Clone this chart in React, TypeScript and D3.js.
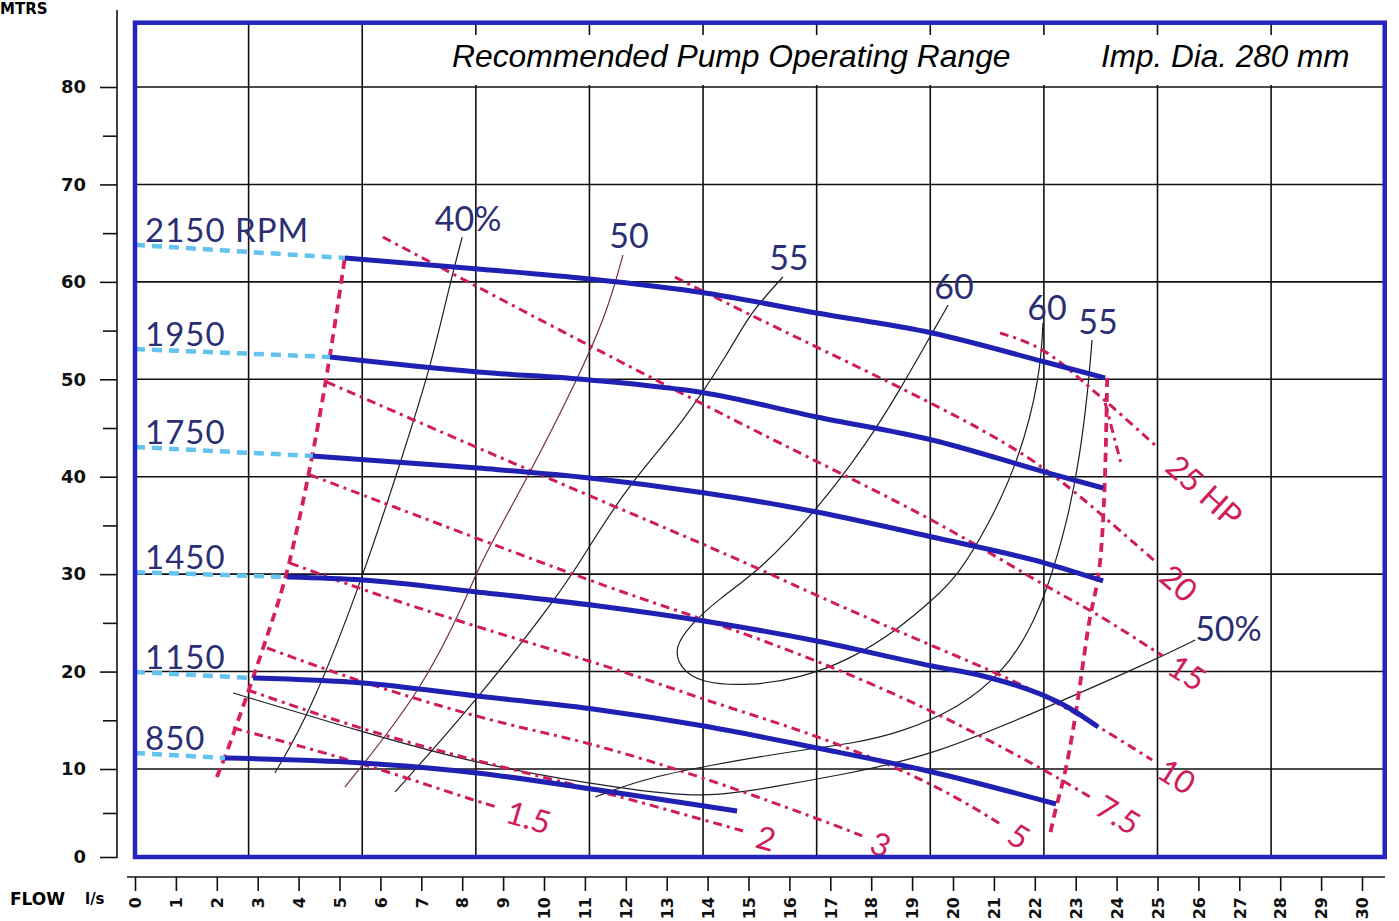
import React, { useEffect, useRef } from "react";
import * as d3 from "d3";

type Pt = [number, number]; // [flow l/s, head m]

const flowTicks = [0, 1, 2, 3, 4, 5, 6, 7, 8, 9, 10, 11, 12, 13, 14, 15, 16, 17, 18, 19, 20, 21, 22, 23, 24, 25, 26, 27, 28, 29, 30];
const headTicks = [0, 10, 20, 30, 40, 50, 60, 70, 80];
const headMinorTicks = [5, 15, 25, 35, 45, 55, 65, 75];
// the grid is drawn in m3/h, the axis in l/s
const gridFlowsM3h = [10, 20, 30, 40, 50, 60, 70, 80, 90, 100];
const gridHeads = [10, 20, 30, 40, 50, 60, 70, 80];

const speedLabels = ["2150 RPM", "1950", "1750", "1450", "1150", "850"];

const lead2150: Pt[] = [[0, 63.8], [5.13, 62.45]];
const lead1950: Pt[] = [[0, 53.1], [4.77, 52.29]];
const lead1750: Pt[] = [[0, 43.05], [4.35, 42.13]];
const lead1450: Pt[] = [[0, 30.2], [3.72, 29.71]];
const lead1150: Pt[] = [[0, 19.96], [2.89, 19.34]];
const lead850: Pt[] = [[0, 11.64], [2.2, 11.13]];

const h2150: Pt[] = [[5.13, 62.45], [8.39, 61.32], [11.12, 60.29], [13.94, 58.86], [16.67, 56.8], [19.49, 54.75], [22.25, 51.77], [23.72, 50.13]];
const h1950: Pt[] = [[4.77, 52.29], [8.39, 50.75], [11.12, 49.93], [13.94, 48.59], [16.67, 46.13], [19.49, 43.77], [22.25, 40.48], [23.67, 38.84]];
const h1750: Pt[] = [[4.35, 42.13], [8.39, 40.89], [11.12, 39.87], [13.94, 38.33], [16.67, 36.38], [19.49, 33.81], [22.25, 31.14], [23.67, 29.3]];
const h1450: Pt[] = [[3.72, 29.71], [5.57, 29.4], [8.36, 28.17], [11.34, 26.73], [13.91, 25.19], [16.67, 23.14], [19.49, 20.57], [20.73, 19.55], [22.25, 17.49], [22.71, 16.57], [23.55, 14.31]];
const h1150: Pt[] = [[2.89, 19.34], [5.57, 18.83], [8.36, 17.49], [11.37, 16.06], [13.91, 14.41], [16.67, 12.16], [19.49, 9.66], [22.52, 6.02]];
const h850: Pt[] = [[2.2, 11.13], [5.57, 10.62], [8.36, 9.55], [11.34, 7.61], [14.72, 5.23]];

const minFlowLimit: Pt[] = [[2.0, 9.1], [2.2, 11.13], [2.89, 19.34], [3.3, 24.57], [3.72, 29.71], [4.35, 42.13], [4.77, 52.29], [5.13, 62.45]];
const maxFlowLimit: Pt[] = [[23.77, 50.13], [23.72, 38.64], [23.59, 29.3], [23.35, 26.42], [23.08, 17.49], [22.76, 9.55], [22.52, 5.8], [22.37, 2.5]];
const hp25Spur: Pt[] = [[23.72, 47.57], [24.13, 41.0]];

const powerLabels = ["1.5", "2", "3", "5", "7.5", "10", "15", "20", "25 HP"];
const hp1_5: Pt[] = [[2.4, 14.21], [5.57, 10.62], [8.02, 6.82], [8.85, 5.68]];
const hp2: Pt[] = [[2.76, 18.1], [5.57, 14.0], [8.36, 10.8], [11.3, 7.61], [13.91, 4.2], [14.96, 2.84]];
const hp3: Pt[] = [[3.23, 22.42], [5.57, 18.83], [8.36, 15.34], [9.9, 13.8], [11.12, 12.67], [13.91, 9.09], [17.24, 3.41], [17.78, 2.39]];
const hp5: Pt[] = [[3.79, 31.14], [5.57, 28.37], [8.36, 24.57], [12.1, 19.85], [13.91, 17.08], [16.67, 13.52], [19.49, 8.5], [21.2, 3.64]];
const hp7_5: Pt[] = [[4.28, 40.18], [5.57, 38.12], [11.69, 28.37], [13.91, 25.4], [16.67, 21.19], [19.49, 16.06], [22.25, 9.89], [23.35, 6.82]];
const hp10: Pt[] = [[4.69, 49.72], [9.66, 40.6], [14.55, 31.96], [16.67, 27.76], [19.49, 22.62], [22.25, 17.8], [24.87, 10.92]];
const hp15: Pt[] = [[6.06, 64.6], [14.55, 45.82], [19.49, 35.86], [22.22, 28.78], [23.35, 26.42], [25.13, 21.6]];
const hp20: Pt[] = [[13.2, 60.5], [15.04, 56.6], [16.67, 53.31], [19.49, 47.57], [21.96, 42.02], [23.59, 36.28], [24.99, 31.14]];
const hp25: Pt[] = [[21.15, 54.75], [22.25, 53.31], [23.4, 48.9], [23.77, 47.67], [24.99, 43.05]];

const effLabels = ["40%", "50", "55", "60", "55", "50%"];
const eff40: Pt[] = [[8.0, 64.6], [7.68, 59.47], [7.21, 50.95], [6.53, 42.02], [5.57, 29.6], [4.28, 15.75], [3.42, 9.55]];
const eff50: Pt[] = [[11.93, 62.76], [11.54, 56.8], [10.81, 49.93], [9.66, 40.38], [8.44, 31.14], [8.19, 28.37], [7.04, 18.11], [5.13, 7.95]];
const eff55: Pt[] = [[15.84, 60.5], [15.04, 56.8], [14.55, 53.0], [13.4, 45.51], [12.1, 39.35], [11.05, 32.48], [10.46, 28.37], [8.36, 17.08], [6.36, 7.39]];
const eff60: Pt[] = [[19.88, 57.62], [19.49, 54.75], [18.7, 48.9], [17.9, 43.46], [16.67, 36.58], [15.28, 30.42], [14.3, 27.55], [13.57, 24.78], [13.18, 22.42], [13.33, 20.37], [13.81, 18.83], [15.04, 18.52], [16.26, 19.34], [17.48, 21.19], [18.7, 24.47], [19.49, 27.35], [20.1, 29.71], [20.9, 35.25], [21.64, 42.02], [22.13, 50.23], [22.2, 55.78]];
const eff55r: Pt[] = [[23.4, 54.03], [23.3, 48.9], [23.1, 42.02], [22.79, 35.25], [22.3, 28.37], [21.88, 24.27], [21.27, 20.16], [20.17, 16.26], [18.7, 13.69], [17.48, 12.57], [16.43, 12.05], [13.91, 10.31], [12.35, 8.75], [11.25, 6.82]];
const eff50r: Pt[] = [[25.92, 23.24], [24.82, 20.98], [22.32, 16.36], [19.41, 11.23], [17.24, 9.32], [15.6, 7.95], [13.91, 6.7], [12.1, 7.61], [8.36, 10.45], [5.57, 13.8], [2.4, 17.8]];

const NAVY = "#2b2e73";
const CRIMSON = "#d01c5a";

const App = () => {
  const svgRef = useRef<SVGSVGElement>(null);

  useEffect(() => {
    const svg = d3.select(svgRef.current);
    svg.selectAll("*").remove();

    const x = d3.scaleLinear().domain([0, 30]).range([135, 1362]);
    const y = d3.scaleLinear().domain([0, 10, 80]).range([857, 769, 87]);
    const qMax = 110 / 3.6;
    const hTop = 86.6;

    const smooth = d3
      .line<Pt>()
      .x((d) => x(d[0]))
      .y((d) => y(d[1]))
      .curve(d3.curveBasis);
    const headLine = d3
      .line<Pt>()
      .x((d) => x(d[0]))
      .y((d) => y(d[1]))
      .curve(d3.curveMonotoneX);

    // grid
    const grid = svg.append("g").attr("stroke", "#111").attr("stroke-width", 1.6);
    gridFlowsM3h.forEach((q) => {
      grid.append("line").attr("x1", x(q / 3.6)).attr("x2", x(q / 3.6)).attr("y1", y(hTop)).attr("y2", y(0));
    });
    gridHeads.forEach((h) => {
      grid.append("line").attr("x1", x(0)).attr("x2", x(qMax)).attr("y1", y(h)).attr("y2", y(h));
    });

    // title box
    const titleFont = "'Liberation Sans', Arial, sans-serif";
    svg.append("rect").attr("x", 420).attr("y", 35).attr("width", 955).attr("height", 50).attr("fill", "#fff");
    svg
      .append("text")
      .attr("x", 452)
      .attr("y", 67)
      .style("font-family", titleFont)
      .style("font-style", "italic")
      .style("font-size", "31.8px")
      .text("Recommended Pump Operating Range");
    svg
      .append("text")
      .attr("x", 1101)
      .attr("y", 67)
      .style("font-family", titleFont)
      .style("font-style", "italic")
      .style("font-size", "31.5px")
      .text("Imp. Dia. 280 mm");

    // efficiency curves
    const effCurves = [eff40, eff50, eff55, eff60, eff55r, eff50r];
    effCurves.forEach((c, i) => {
      svg
        .append("path")
        .attr("d", smooth(c))
        .attr("fill", "none")
        .attr("stroke", i === 1 ? "#7a2a48" : "#1d1d2d")
        .attr("stroke-width", 1.2);
    });

    // power lines
    const powerCurves = [hp1_5, hp2, hp3, hp5, hp7_5, hp10, hp15, hp20, hp25];
    [...powerCurves, hp25Spur].forEach((c) => {
      svg
        .append("path")
        .attr("d", smooth(c))
        .attr("fill", "none")
        .attr("stroke", CRIMSON)
        .attr("stroke-width", 3)
        .attr("stroke-dasharray", "9,5,3,5");
    });

    // operating range limits
    [minFlowLimit, maxFlowLimit].forEach((c) => {
      svg
        .append("path")
        .attr("d", smooth(c))
        .attr("fill", "none")
        .attr("stroke", "#d71f5f")
        .attr("stroke-width", 3.8)
        .attr("stroke-dasharray", "9,6");
    });

    // speed curves
    const leads = [lead2150, lead1950, lead1750, lead1450, lead1150, lead850];
    const heads = [h2150, h1950, h1750, h1450, h1150, h850];
    leads.forEach((c) => {
      svg
        .append("path")
        .attr("d", headLine(c))
        .attr("fill", "none")
        .attr("stroke", "#62c4ee")
        .attr("stroke-width", 4.5)
        .attr("stroke-dasharray", "10,7");
    });
    heads.forEach((c) => {
      svg.append("path").attr("d", headLine(c)).attr("fill", "none").attr("stroke", "#2020b2").attr("stroke-width", 5);
    });

    // speed labels
    const labelFont = "Lato, 'Noto Sans', sans-serif";
    leads.forEach((c, i) => {
      svg
        .append("text")
        .attr("x", x(c[0][0]) + 10)
        .attr("y", y(c[0][1]) - 3)
        .style("font-family", labelFont)
        .style("font-size", "33px")
        .style("letter-spacing", "1px")
        .style("fill", NAVY)
        .text(speedLabels[i]);
    });

    // efficiency labels
    const effText = (px: number, py: number, t: string, anchor: string) =>
      svg
        .append("text")
        .attr("x", px)
        .attr("y", py)
        .attr("text-anchor", anchor)
        .attr("dominant-baseline", "central")
        .style("font-family", labelFont)
        .style("font-size", "34px")
        .style("fill", NAVY)
        .text(t);
    effCurves.forEach((c, i) => {
      const first = c[0];
      if (i === 5) {
        effText(x(first[0]), y(first[1]) - 13, effLabels[i], "start");
      } else {
        effText(x(first[0]) + 6, y(first[1]) - 20, effLabels[i], "middle");
      }
      if (i === 3) {
        const last = c[c.length - 1];
        effText(x(last[0]) + 4, y(last[1]) - 16, effLabels[i], "middle");
      }
    });

    // power labels
    powerCurves.forEach((c, i) => {
      const p1 = [x(c[c.length - 1][0]), y(c[c.length - 1][1])];
      const p0 = [x(c[c.length - 2][0]), y(c[c.length - 2][1])];
      const a = Math.atan2(p1[1] - p0[1], p1[0] - p0[0]);
      const gap = i === 8 ? 20 : 11;
      const lx = p1[0] + Math.cos(a) * gap;
      const ly = p1[1] + Math.sin(a) * gap;
      svg
        .append("text")
        .attr("transform", `translate(${lx},${ly}) rotate(${(a * 180) / Math.PI})`)
        .attr("dominant-baseline", "central")
        .style("font-family", labelFont)
        .style("font-size", "32px")
        .style("fill", CRIMSON)
        .text(powerLabels[i]);
    });

    // frame
    svg
      .append("rect")
      .attr("x", x(0))
      .attr("y", y(hTop))
      .attr("width", x(qMax) - x(0))
      .attr("height", y(0) - y(hTop))
      .attr("fill", "none")
      .attr("stroke", "#2424bf")
      .attr("stroke-width", 4.5);

    // y axis
    const axisFont = "'DejaVu Sans', Verdana, sans-serif";
    const yAxis = svg.append("g").attr("transform", "translate(117,0)");
    yAxis.call(d3.axisLeft(y).tickValues(headTicks).tickSize(17).tickPadding(14).tickFormat(d3.format("d")));
    const yMinor = svg.append("g").attr("transform", "translate(117,0)");
    yMinor.call(d3.axisLeft(y).tickValues(headMinorTicks).tickSize(14).tickFormat(() => ""));
    [yAxis, yMinor].forEach((g) => {
      g.select(".domain").remove();
      g.selectAll("line").attr("stroke", "#111").attr("stroke-width", 1.6);
    });
    yAxis.selectAll("text").style("font-family", axisFont).style("font-weight", "bold").style("font-size", "18px").style("fill", "#111");
    svg.append("line").attr("x1", 117).attr("x2", 117).attr("y1", 10).attr("y2", y(0) + 1).attr("stroke", "#111").attr("stroke-width", 1.6);

    // x axis
    const xAxis = svg.append("g").attr("transform", "translate(0,877)");
    xAxis.call(d3.axisBottom(x).tickValues(flowTicks).tickSize(14).tickFormat(d3.format("d")));
    xAxis.select(".domain").remove();
    xAxis.selectAll("line").attr("stroke", "#111").attr("stroke-width", 1.6);
    xAxis
      .selectAll("text")
      .attr("transform", "rotate(-90)")
      .attr("x", -20)
      .attr("y", 0)
      .attr("dy", "0.36em")
      .attr("text-anchor", "end")
      .style("font-family", axisFont)
      .style("font-weight", "bold")
      .style("font-size", "16px")
      .style("fill", "#111");
    svg.append("line").attr("x1", 127).attr("x2", 1385).attr("y1", 877).attr("y2", 877).attr("stroke", "#111").attr("stroke-width", 1.6);

    // axis titles
    svg
      .append("text")
      .attr("x", 0)
      .attr("y", 14)
      .style("font-family", axisFont)
      .style("font-weight", "bold")
      .style("font-size", "15px")
      .text("MTRS");
    svg
      .append("text")
      .attr("x", 10)
      .attr("y", 905)
      .style("font-family", axisFont)
      .style("font-weight", "bold")
      .style("font-size", "17px")
      .text("FLOW");
    svg
      .append("text")
      .attr("x", 85)
      .attr("y", 904)
      .style("font-family", axisFont)
      .style("font-weight", "bold")
      .style("font-size", "15px")
      .text("l/s");
  }, []);

  return (
    <svg
      ref={svgRef}
      width={1399}
      height={921}
      style={{ position: "absolute", left: 0, top: 0, background: "#fff" }}
    ></svg>
  );
};

export default App;
